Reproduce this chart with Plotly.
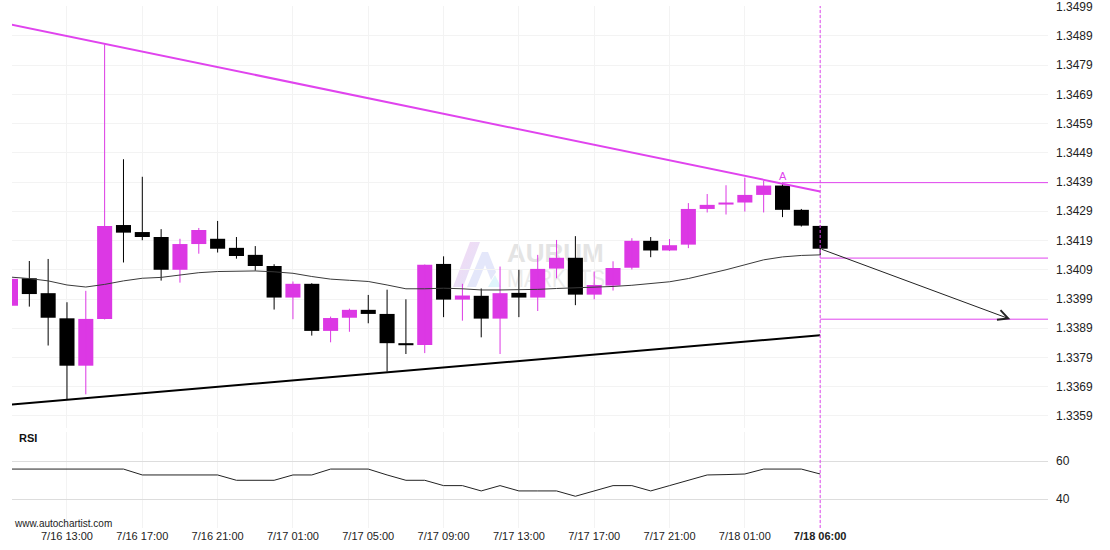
import base64
import plotly.graph_objects as go

# hourly candles, index 0 = 7/16 10:00
opens = [1.33967, 1.34061, 1.34010, 1.33924, 1.33762, 1.33922, 1.34243, 1.34219, 1.34202, 1.34090,
         1.34178, 1.34196, 1.34165, 1.34141, 1.34103, 1.33995, 1.34042, 1.33881, 1.33926, 1.33953,
         1.33939, 1.33839, 1.33833, 1.34110, 1.33988, 1.34001, 1.33923, 1.34011, 1.33995, 1.34094,
         1.34131, 1.34005, 1.34036, 1.34097, 1.34189, 1.34156, 1.34176, 1.34298, 1.34313, 1.34320,
         1.34346, 1.34378, 1.34295, 1.34240]
highs = [1.34062, 1.34120, 1.34127, 1.33979, 1.34018, 1.34861, 1.34468, 1.34408, 1.34229, 1.34196,
         1.34233, 1.34257, 1.34202, 1.34171, 1.34109, 1.34050, 1.34044, 1.33930, 1.33957, 1.34004,
         1.34022, 1.33989, 1.34108, 1.34136, 1.34042, 1.34026, 1.34101, 1.34090, 1.34141, 1.34192,
         1.34205, 1.34084, 1.34119, 1.34198, 1.34202, 1.34195, 1.34318, 1.34349, 1.34379, 1.34405,
         1.34394, 1.34388, 1.34298, 1.34242]
lows = [1.33965, 1.33964, 1.33831, 1.33648, 1.33664, 1.33920, 1.34115, 1.34191, 1.34053, 1.34046,
        1.34145, 1.34149, 1.34128, 1.34087, 1.33954, 1.33921, 1.33865, 1.33842, 1.33878, 1.33907,
        1.33742, 1.33802, 1.33805, 1.33928, 1.33916, 1.33859, 1.33802, 1.33928, 1.33949, 1.34061,
        1.33969, 1.33989, 1.34019, 1.34091, 1.34133, 1.34154, 1.34164, 1.34286, 1.34279, 1.34289,
        1.34286, 1.34270, 1.34238, 1.34140]
closes = [1.34059, 1.34007, 1.33926, 1.33762, 1.33922, 1.34240, 1.34217, 1.34202, 1.34090, 1.34178,
          1.34226, 1.34162, 1.34137, 1.34103, 1.33995, 1.34042, 1.33881, 1.33925, 1.33953, 1.33939,
          1.33839, 1.33832, 1.34107, 1.33988, 1.34002, 1.33923, 1.34010, 1.33995, 1.34093, 1.34131,
          1.34005, 1.34038, 1.34096, 1.34189, 1.34156, 1.34174, 1.34298, 1.34312, 1.34320, 1.34346,
          1.34378, 1.34295, 1.34241, 1.34162]
ma = [1.34065, 1.34060, 1.34052, 1.34038, 1.34031, 1.34040, 1.34052, 1.34061, 1.34064, 1.34072,
      1.34080, 1.34084, 1.34086, 1.34086, 1.34083, 1.34078, 1.34067, 1.34058, 1.34054, 1.34050,
      1.34038, 1.34025, 1.34025, 1.34027, 1.34025, 1.34021, 1.34021, 1.34021, 1.34023, 1.34026,
      1.34028, 1.34030, 1.34033, 1.34037, 1.34042, 1.34049, 1.34060, 1.34074, 1.34090, 1.34107,
      1.34124, 1.34134, 1.34139, 1.34141]
rsi = [55.9, 55.9, 55.9, 55.9, 55.9, 55.9, 55.9, 52.8, 52.8, 52.8,
       52.8, 52.8, 50.0, 50.0, 50.0, 52.8, 52.8, 55.9, 55.9, 55.9,
       52.8, 50.0, 50.0, 47.2, 47.2, 44.4, 47.2, 44.4, 44.4, 44.4,
       41.6, 44.4, 47.2, 47.2, 44.4, 47.2, 50.0, 52.8, 53.0, 53.3,
       55.9, 55.9, 55.9, 53.3]

tick_pos = [3, 7, 11, 15, 19, 23, 27, 31, 35, 39, 43]
tick_labels = ["7/16 13:00", "7/16 17:00", "7/16 21:00", "7/17 01:00", "7/17 05:00",
               "7/17 09:00", "7/17 13:00", "7/17 17:00", "7/17 21:00", "7/18 01:00",
               "<b>7/18 06:00</b>"]
price_ticks = [1.3359, 1.3369, 1.3379, 1.3389, 1.3399, 1.3409, 1.3419, 1.3429,
               1.3439, 1.3449, 1.3459, 1.3469, 1.3479, 1.3489, 1.3499]
rsi_ticks = [40, 60]

# pattern
resist_x, resist_y = [0, 43], [1.34929, 1.34358]
support_x, support_y = [0, 43], [1.33629, 1.33866]
levels = [1.34388, 1.34130, 1.33921]
level_start = [41, 43, 43]
point_a = 41
forecast_x, forecast_y = 53.1, 1.33921

X_RANGE = [0.08, 55.1]
PINK = "#dc38e4"
LINE_PINK = "#e044ee"

idx = list(range(len(opens)))
up = [i for i in idx if closes[i] >= opens[i]]
down = [i for i in idx if closes[i] < opens[i]]


def wick_xy(ids):
    xs, ys = [], []
    for i in ids:
        xs += [i, i, None]
        ys += [lows[i], highs[i], None]
    return xs, ys


fig = go.Figure()

for ids, col in [(up, PINK), (down, "#000000")]:
    wx, wy = wick_xy(ids)
    fig.add_trace(go.Scatter(x=wx, y=wy, mode="lines", line=dict(color=col, width=1),
                             hoverinfo="skip"))

fig.add_trace(go.Scatter(x=idx, y=ma, mode="lines", line=dict(color="#3a3a3a", width=1)))

for ids, col in [(up, PINK), (down, "#000000")]:
    fig.add_trace(go.Bar(
        x=ids,
        y=[abs(closes[i] - opens[i]) for i in ids],
        base=[min(opens[i], closes[i]) for i in ids],
        width=0.8,
        marker=dict(color=col, line=dict(width=0)),
    ))

fig.add_trace(go.Scatter(x=resist_x, y=resist_y, mode="lines",
                         line=dict(color=LINE_PINK, width=2)))
fig.add_trace(go.Scatter(x=support_x, y=support_y, mode="lines",
                         line=dict(color="#000000", width=2)))

for lv, x0 in zip(levels, level_start):
    fig.add_trace(go.Scatter(x=[x0, X_RANGE[1]], y=[lv, lv], mode="lines",
                             line=dict(color=LINE_PINK, width=1)))

fig.add_trace(go.Scatter(x=idx, y=rsi, mode="lines", line=dict(color="#222222", width=1),
                         xaxis="x", yaxis="y2"))

fig.add_shape(type="line", xref="x", yref="paper", x0=43, x1=43, y0=0, y1=1,
              line=dict(color=LINE_PINK, width=1, dash="3px,2px"))

fig.add_annotation(x=forecast_x, y=forecast_y, ax=43, ay=closes[-1], xref="x", yref="y",
                   axref="x", ayref="y", showarrow=True, arrowhead=5, arrowsize=2,
                   arrowwidth=1, arrowcolor="#222222", text="")
fig.add_annotation(x=point_a, y=highs[point_a], xref="x", yref="y", text="A",
                   showarrow=False, yanchor="bottom", yshift=-1,
                   font=dict(family="Liberation Sans", size=11, color=LINE_PINK))
fig.add_annotation(x=0.005, y=0.1724, xref="paper", yref="paper", text="<b>RSI</b>",
                   showarrow=False, xanchor="left", yanchor="middle",
                   font=dict(family="Liberation Sans", size=11, color="#111111"))
fig.add_annotation(x=0, y=0.008, xref="paper", yref="paper", text="www.autochartist.com",
                   showarrow=False, xanchor="left", yanchor="middle",
                   font=dict(family="Liberation Sans", size=10, color="#222222"))

# watermark
svg = """<svg xmlns='http://www.w3.org/2000/svg' width='160' height='52' viewBox='0 0 160 52'>
<defs><linearGradient id='g' x1='0' y1='0' x2='1' y2='1'>
<stop offset='0' stop-color='#f5d8f3'/><stop offset='1' stop-color='#e2e4f9'/></linearGradient></defs>
<polygon points='3,49 20,4 30,4 13,49' fill='url(#g)'/>
<polygon points='17,49 32,14 38,14 46,34 41,42 35,27 26,49' fill='#e4e7fa'/>
<polygon points='38,49 51,49 45,37' fill='#e0f5fb'/>
<text x='57' y='24' font-family='Liberation Sans' font-weight='bold' font-size='26' fill='#e4e4e4'>AURUM</text>
<text x='57' y='49' font-family='Liberation Sans' font-size='24' fill='#ebebeb' textLength='98' lengthAdjust='spacingAndGlyphs'>MARKETS</text>
</svg>"""
fig.add_layout_image(dict(
    source="data:image/svg+xml;base64," + base64.b64encode(svg.encode()).decode(),
    xref="paper", yref="paper", x=0.4228, y=0.5556, sizex=0.1544, sizey=0.0996,
    xanchor="left", yanchor="top", sizing="stretch", layer="below",
))

fig.update_layout(
    width=1110, height=550,
    margin=dict(l=12, r=62, t=6, b=22),
    paper_bgcolor="white", plot_bgcolor="rgba(0,0,0,0)",
    showlegend=False, barmode="overlay",
    xaxis=dict(domain=[0, 1], anchor="y2", range=X_RANGE, tickvals=tick_pos,
               ticktext=tick_labels, showgrid=True, gridcolor="#f3f3f3", zeroline=False,
               showline=False, ticks="", automargin=False,
               tickfont=dict(family="Liberation Sans", size=11, color="#222222")),
    yaxis=dict(domain=[0.1916, 1], range=[1.33549, 1.34992], side="right", anchor="x",
               tickvals=price_ticks, tickformat=".4f", showgrid=True, gridcolor="#f3f3f3",
               zeroline=False, showline=False, ticks="", ticklabelstandoff=7,
               ticklabeloverflow="allow", automargin=False,
               tickfont=dict(family="Liberation Sans", size=12, color="#222222")),
    yaxis2=dict(domain=[0, 0.1839], range=[24.9, 75.4], side="right", anchor="x",
                tickvals=rsi_ticks, showgrid=True, gridcolor="#dddddd", zeroline=False,
                showline=False, ticks="", ticklabelstandoff=7, automargin=False,
                tickfont=dict(family="Liberation Sans", size=12, color="#222222")),
)

fig.write_html("out.html", config={"displayModeBar": False},
               post_script="document.body.style.margin='0px';")
